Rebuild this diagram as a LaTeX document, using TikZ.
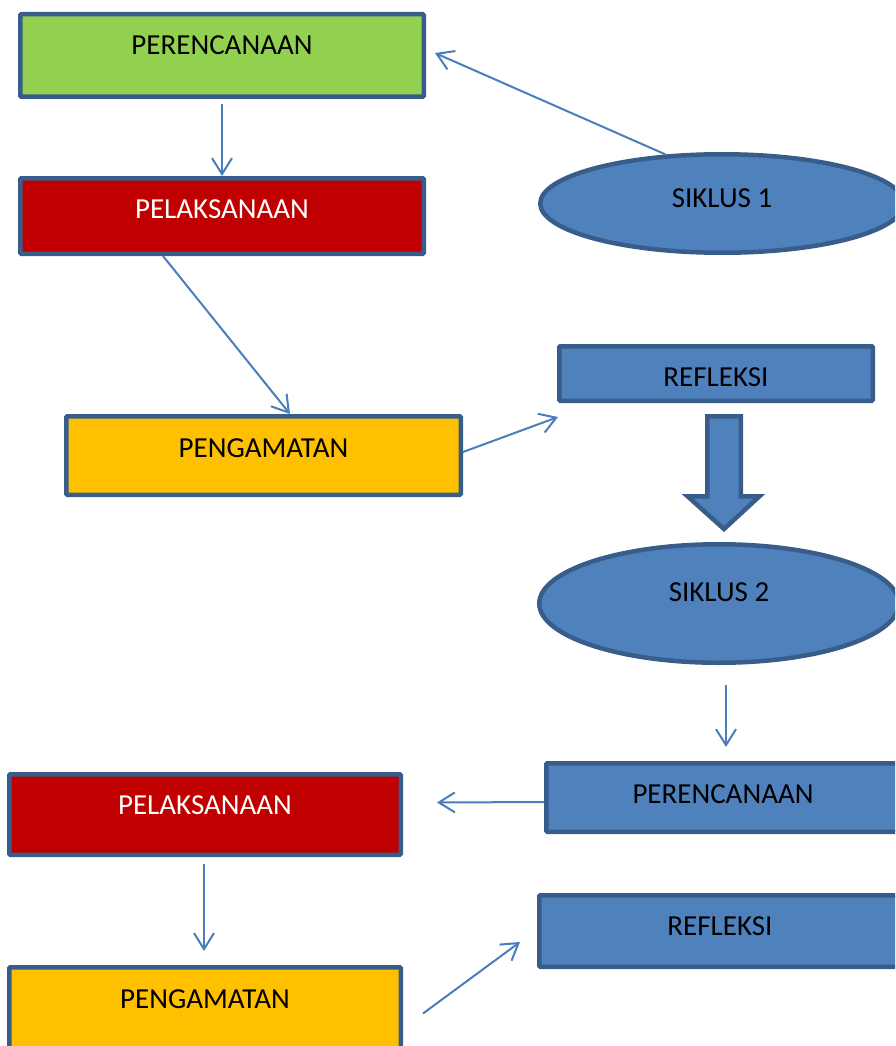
\documentclass[tikz,border=0pt]{standalone}
\usepackage{fontspec}
\setmainfont{Carlito}
\usetikzlibrary{calc, positioning, arrows.meta, shapes.geometric}

\definecolor{boxblue}{HTML}{4F81BD}
\definecolor{edgeblue}{HTML}{385D8A}
\definecolor{boxgreen}{HTML}{92D050}
\definecolor{boxred}{HTML}{C00000}
\definecolor{boxorange}{HTML}{FFC000}
\definecolor{lineblue}{HTML}{4A7EBB}

\begin{document}
\begin{tikzpicture}[
  % one unit = one pixel of the sketch, y pointing down
  x=1pt, y=-1pt,
  font=\fontsize{29}{34}\selectfont,
  stage/.style={draw=edgeblue, line width=4.5pt, inner sep=0pt, rounded corners=1pt,
                text height=19pt, text depth=#1},
  stage/.default=14pt,
  siklus/.style={stage=#1, ellipse, fill=boxblue, rounded corners=0pt},
  flow/.style={draw=lineblue, line width=2pt, -{Straight Barb[length=16pt,width=20pt]}}
]
  \useasboundingbox (0,0) rectangle (895,1046);
  \clip (0,0) rectangle (895,1046);

  % Siklus 1
  \node[stage=21.3pt, fill=boxgreen, minimum width=403.5pt, minimum height=82.5pt] (renA) at (222,55.5) {PERENCANAAN};
  \node[stage=14.3pt, fill=boxred, text=white, minimum width=403.5pt, minimum height=75.5pt] (pelA) at (222,216) {PELAKSANAAN};
  \node[stage=15.3pt, fill=boxorange, minimum width=394.5pt, minimum height=78.5pt] (pengA) at (263.5,455.5) {PENGAMATAN};
  \node[siklus=11.3pt, minimum width=363.5pt, minimum height=98.5pt] (sikA) at (722,203.5) {SIKLUS 1};
  \node[stage, fill=boxblue, text height=26pt, text depth=0pt, minimum width=313.5pt, minimum height=54.5pt] (refA) at (716,373.5) {REFLEKSI};

  % Siklus 2
  \node[siklus=23.3pt, minimum width=359.5pt, minimum height=118.5pt] (sikB) at (719,603.5) {SIKLUS 2};
  \node[stage=7.3pt, fill=boxblue, minimum width=353.5pt, minimum height=68.5pt] (renB) at (723,797.5) {PERENCANAAN};
  \node[stage=19.3pt, fill=boxred, text=white, minimum width=391.5pt, minimum height=80.5pt] (pelB) at (205,814.5) {PELAKSANAAN};
  \node[stage=22.3pt, fill=boxorange, minimum width=391.5pt, minimum height=85.5pt] (pengB) at (205,1010) {PENGAMATAN};
  \node[stage=10.3pt, fill=boxblue, minimum width=361.5pt, minimum height=71.5pt] (refB) at (720,931) {REFLEKSI};

  % block arrow from refleksi to siklus 2
  \draw[draw=edgeblue, fill=boxblue, line width=4.5pt]
    (707.25,416.25) -- (740.75,416.25) -- (740.75,496.25) -- (759.5,496.25)
    -- (724,529) -- (687.5,496.25) -- (707.25,496.25) -- cycle;

  % connectors
  \draw[flow, shorten <=5pt] (renA) -- (pelA);
  \draw[flow] ([xshift=-59pt]pelA.south) -- ([xshift=26.5pt]pengA.north);
  \draw[flow] ([yshift=3.5pt]pengA.east) -- ([shift={(1pt,-14pt)}]refA.south west);
  \draw[flow] (sikA.139) -- ([shift={(9pt,2.5pt)}]renA.east);
  \draw[flow] ([shift={(7pt,-20pt)}]sikB.south) -- ([shift={(3pt,14pt)}]renB.north);
  \draw[flow] ([yshift=-4.5pt]renB.west) -- ([shift={(34pt,12pt)}]pelB.east);
  \draw[flow] ([shift={(-1pt,-7pt)}]pelB.south) -- ([shift={(-1pt,14pt)}]pengB.north);
  \draw[flow] ([shift={(20pt,-3.5pt)}]pengB.east) -- ([shift={(-17pt,-11pt)}]refB.west);
\end{tikzpicture}
\end{document}
